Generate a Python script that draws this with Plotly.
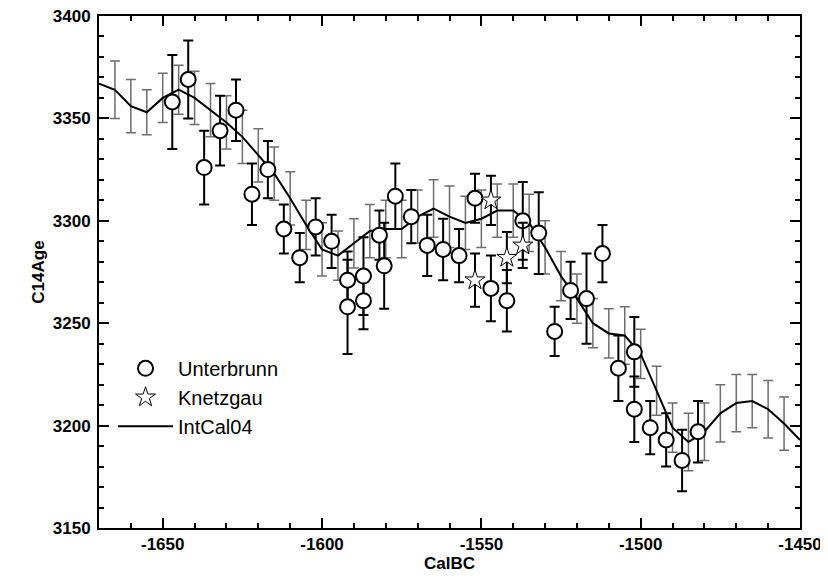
import plotly.graph_objects as go

# IntCal04 calibration curve (CalBC, C14 age, 1-sigma)
intcal_x = [-1670, -1665, -1660, -1655, -1650, -1645, -1640, -1635, -1630, -1625,
            -1620, -1615, -1610, -1605, -1600, -1595, -1590, -1585, -1580, -1575,
            -1570, -1565, -1560, -1555, -1550, -1545, -1540, -1535, -1530, -1525,
            -1520, -1515, -1510, -1505, -1500, -1495, -1490, -1485, -1480, -1475,
            -1470, -1465, -1460, -1455, -1450]
intcal_y = [3367, 3364, 3356, 3353, 3360, 3364, 3360, 3354, 3348, 3341,
            3332, 3323, 3311, 3298, 3286, 3283, 3289, 3295, 3296, 3296,
            3302, 3306, 3302, 3299, 3301, 3305, 3305, 3299, 3287, 3273,
            3262, 3250, 3245, 3244, 3235, 3217, 3199, 3192, 3197, 3206,
            3211, 3212, 3208, 3201, 3193]
intcal_err = [0, 14, 13, 11, 12, 12, 13, 13, 13, 13,
              13, 13, 13, 12, 13, 12, 12, 13, 14, 14,
              13, 14, 15, 13, 14, 13, 13, 14, 13, 12,
              12, 12, 12, 14, 12, 12, 12, 14, 14, 14,
              14, 13, 14, 13, 0]

# Unterbrunn samples
unter_x = [-1647, -1642, -1637, -1632, -1627, -1622, -1617, -1612, -1607, -1602,
           -1597, -1592, -1592, -1587, -1587, -1582, -1580.5, -1577, -1572, -1567,
           -1562, -1557, -1552, -1547, -1542, -1537, -1532, -1527, -1522, -1517,
           -1512, -1507, -1502, -1502, -1497, -1492, -1487, -1482]
unter_y = [3358, 3369, 3326, 3344, 3354, 3313, 3325, 3296, 3282, 3297,
           3290, 3271, 3258, 3273, 3261, 3293, 3278, 3312, 3302, 3288,
           3286, 3283, 3311, 3267, 3261, 3300, 3294, 3246, 3266, 3262,
           3284, 3228, 3236, 3208, 3199, 3193, 3183, 3197]
unter_err = [23, 19, 18, 17, 15, 15, 14, 12, 12, 14,
             13, 14, 23, 19, 14, 12, 21, 16, 13, 15,
             15, 13, 12, 16, 15, 19, 20, 12, 14, 22,
             14, 16, 17, 16, 13, 13, 15, 15]

# Knetzgau samples
knetz_x = [-1552, -1547, -1542, -1537]
knetz_y = [3271, 3310, 3282, 3288]
knetz_err = [13, 12, 12.5, 11]

# Axis tick labels
x_tickvals = [-1650, -1600, -1550, -1500, -1450]
x_ticktext = ["-1650", "-1600", "-1550", "-1500", "-1450"]
y_tickvals = [3150, 3200, 3250, 3300, 3350, 3400]
y_ticktext = ["3150", "3200", "3250", "3300", "3350", "3400"]

fig = go.Figure()

# IntCal error bars (interior points only)
fig.add_trace(go.Scatter(
    x=intcal_x[1:-1], y=intcal_y[1:-1], mode="markers",
    marker=dict(size=1, color="rgba(0,0,0,0)"),
    error_y=dict(type="data", array=intcal_err[1:-1], color="#6e6e6e",
                 thickness=1.5, width=5),
    showlegend=False, hoverinfo="skip"))

fig.add_trace(go.Scatter(
    x=intcal_x, y=intcal_y, mode="lines", name="IntCal04",
    line=dict(color="black", width=2), legendrank=3))

fig.add_trace(go.Scatter(
    x=unter_x, y=unter_y, mode="markers", name="Unterbrunn",
    marker=dict(symbol="circle", size=15, color="white",
                line=dict(color="black", width=2)),
    error_y=dict(type="data", array=unter_err, color="black",
                 thickness=2, width=5),
    legendrank=1))

fig.add_trace(go.Scatter(
    x=knetz_x, y=knetz_y, mode="markers", name="Knetzgau",
    marker=dict(symbol="star", size=15, color="white",
                line=dict(color="black", width=1)),
    error_y=dict(type="data", array=knetz_err, color="black",
                 thickness=2, width=5),
    legendrank=2))

tickfont = dict(family="Liberation Sans", size=17, color="black", weight="bold")
titlefont = dict(family="Liberation Sans", size=17, color="black", weight="bold")

fig.update_layout(
    width=820, height=570,
    margin=dict(l=91, r=28, t=8, b=50),
    paper_bgcolor="white", plot_bgcolor="white",
    font=dict(family="Liberation Sans", color="black"),
    legend=dict(x=0.02, y=0.35, xanchor="left", yanchor="top",
                bgcolor="rgba(0,0,0,0)", font=dict(size=20, family="Liberation Sans"),
                tracegroupgap=0, itemwidth=55),
    xaxis=dict(range=[-1670, -1450], tickvals=x_tickvals, ticktext=x_ticktext,
               ticks="inside", ticklen=10, tickwidth=2, tickcolor="black",
               showline=True, linewidth=2, linecolor="black", mirror="ticks",
               showgrid=False, zeroline=False, tickfont=tickfont, automargin=False,
               ticklabeloverflow="allow",
               minor=dict(dtick=10, tick0=-1650, ticks="inside", ticklen=5, tickwidth=2,
                          tickcolor="black", showgrid=False),
               title=dict(text="CalBC", font=titlefont, standoff=0)),
    yaxis=dict(range=[3150, 3400], tickvals=y_tickvals, ticktext=y_ticktext,
               ticks="inside", ticklen=10, tickwidth=2, tickcolor="black",
               showline=True, linewidth=2, linecolor="black", mirror="ticks",
               showgrid=False, zeroline=False, tickfont=tickfont, automargin=False,
               ticklabelstandoff=3, ticklabeloverflow="allow",
               minor=dict(dtick=10, tick0=3150, ticks="inside", ticklen=5, tickwidth=2,
                          tickcolor="black", showgrid=False),
               title=dict(text="C14Age", font=titlefont, standoff=4)),
)

fig.write_html("out.html")
